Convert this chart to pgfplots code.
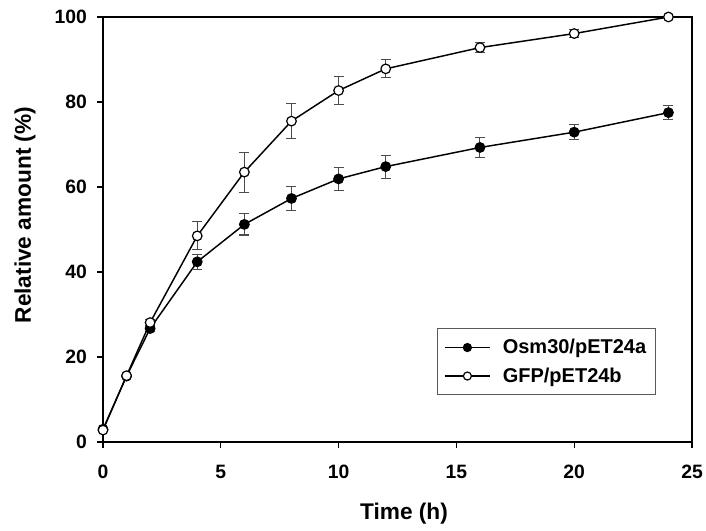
\documentclass[border=0pt]{standalone}
\usepackage{fontspec}
\setmainfont{Liberation Sans}
\usepackage{pgfplots}
\pgfplotsset{compat=1.18}

\pgfplotstableread{
t   v     e
0   3.0   0
1   15.5  0
2   26.7  0.8
4   42.4  1.8
6   51.2  2.5
8   57.3  2.9
10  61.9  2.7
12  64.8  2.7
16  69.3  2.4
20  72.9  1.8
24  77.5  1.6
}\osm

\pgfplotstableread{
t   v     e
0   2.8   0
1   15.6  0
2   28.1  0.8
4   48.5  3.3
6   63.5  4.7
8   75.5  4.1
10  82.7  3.2
12  87.8  2.1
16  92.8  1.1
20  96.1  0.9
24  100   0
}\gfp

\begin{document}
\begin{tikzpicture}
\begin{axis}[
  name=ax, at={(0,0)}, anchor=south west,
  scale only axis, width=441.75pt, height=318.75pt,
  xmin=0, xmax=25, ymin=0, ymax=100,
  xtick={0,5,...,25}, ytick={0,20,...,100},
  tick align=outside, tick pos=left,
  major tick length=4.5pt,
  axis line style={line width=1.2pt},
  tick style={line width=1pt, black},
  /pgf/number format/assume math mode=true,
  ticklabel style={font=\fontsize{14.5}{17}\selectfont\bfseries},
  xticklabel style={yshift=-9pt},
  yticklabel style={xshift=-4pt},
  xlabel={Time (h)}, ylabel={Relative amount (\%)},
  every axis x label/.style={at={(axis description cs:0.511,-0.169)}, anchor=center,
    font=\fontsize{17}{20}\selectfont\bfseries},
  every axis y label/.style={at={(axis description cs:-0.1324,0.534)}, anchor=center, rotate=90,
    font=\fontsize{17}{20}\selectfont\bfseries},
  legend style={at={(axis description cs:0.939,0.268)}, anchor=north east,
    draw=black!65, line width=0.8pt, font=\fontsize{15}{18}\selectfont\bfseries,
    inner xsep=5pt, inner ysep=6pt, row sep=5pt, column sep=7pt},
  legend cell align=left,
  legend image code/.code={\draw[line width=1.1pt, mark repeat=2, mark phase=2, mark size=3pt] plot coordinates {(0pt,0pt) (17pt,0pt) (34pt,0pt)};},
]
\addplot[black, line width=1.1pt, mark=*, mark size=3.6pt,
  mark options={fill=black, line width=0.9pt},
  error bars/.cd, y dir=both, y explicit,
  error bar style={line width=0.8pt, black!70},
  error mark options={rotate=90, mark size=3.75pt, line width=0.8pt, black!70}]
  table[x=t, y=v, y error=e] {\osm};
\addlegendentry{Osm30/pET24a}
\addplot[black, line width=1.1pt, mark=*, mark size=3.6pt,
  mark options={fill=white, line width=0.9pt},
  error bars/.cd, y dir=both, y explicit,
  error bar style={line width=0.8pt, black!70},
  error mark options={rotate=90, mark size=3.75pt, line width=0.8pt, black!70}]
  table[x=t, y=v, y error=e] {\gfp};
\addlegendentry{GFP/pET24b}
\end{axis}
\pgfresetboundingbox
\path[use as bounding box] (-77.25pt,-66.75pt) rectangle (452.25pt,331.5pt);
\end{tikzpicture}
\end{document}
